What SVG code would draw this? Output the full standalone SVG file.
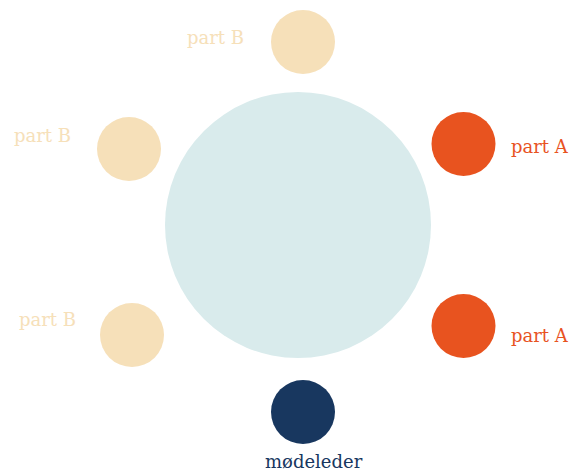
<svg xmlns="http://www.w3.org/2000/svg" width="571" height="472" viewBox="0 0 571 472">
  <style>
    text { font-family: "DejaVu Serif", "Liberation Serif", serif; font-size: 18px; }
    .b { fill: #F6E0B9; }
    .a { fill: #E8531F; }
    .m { fill: #18375F; }
    .table { fill: #D9EBEC; }
  </style>
  <rect width="571" height="472" fill="#FFFFFF"/>
  <g id="table">
    <circle class="table" cx="298" cy="225" r="133"/>
  </g>
  <g id="part-b-top">
    <circle class="b" cx="303" cy="42" r="32"/>
    <text class="b" x="187" y="44">part B</text>
  </g>
  <g id="part-b-upper-left">
    <circle class="b" cx="129" cy="149" r="32"/>
    <text class="b" x="14" y="142">part B</text>
  </g>
  <g id="part-b-lower-left">
    <circle class="b" cx="132" cy="335" r="32"/>
    <text class="b" x="19" y="326">part B</text>
  </g>
  <g id="part-a-upper-right">
    <circle class="a" cx="463.5" cy="144" r="32"/>
    <text class="a" x="511" y="153">part A</text>
  </g>
  <g id="part-a-lower-right">
    <circle class="a" cx="463.5" cy="326" r="32"/>
    <text class="a" x="511" y="342">part A</text>
  </g>
  <g id="moderator">
    <circle class="m" cx="303" cy="412" r="32"/>
    <text class="m" x="265" y="468">mødeleder</text>
  </g>
  <g id="connectors"/>
</svg>
